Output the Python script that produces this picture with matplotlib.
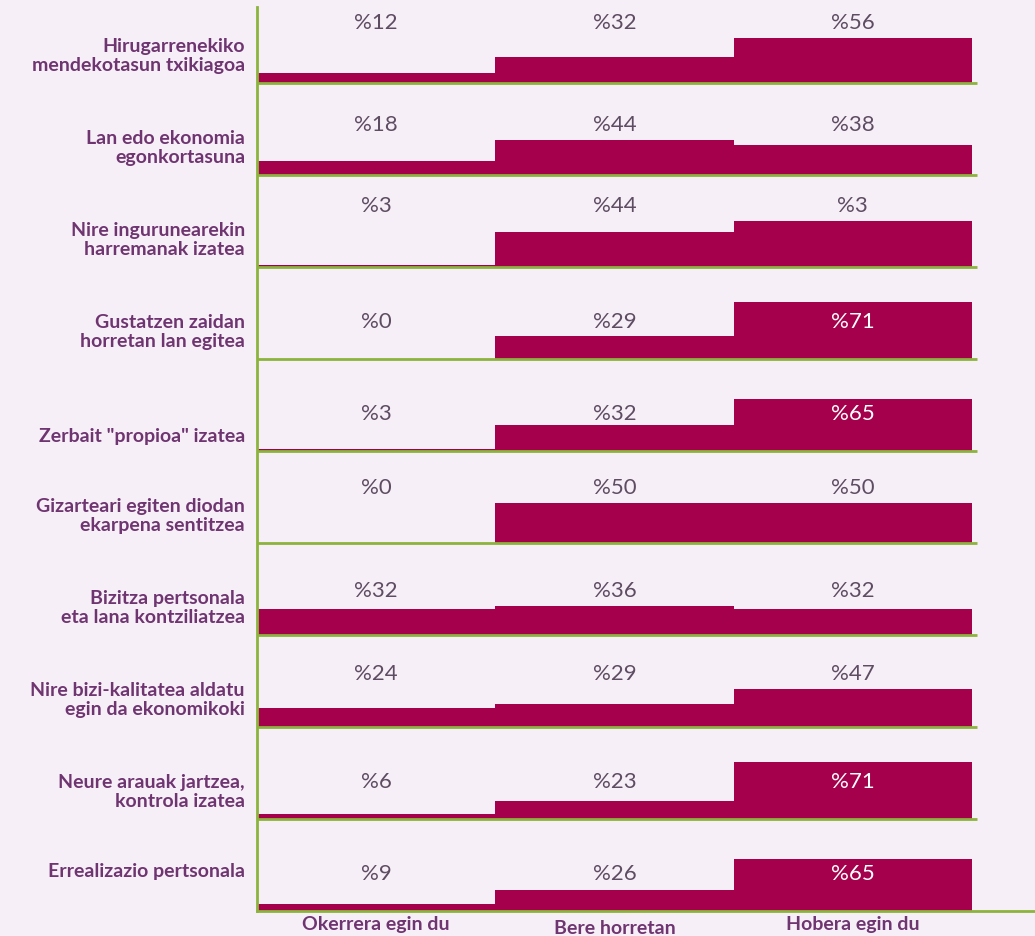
import matplotlib
matplotlib.use("Agg")
from matplotlib import pyplot as plt

# Datuak (irudian irakurrita)
categories = [
    "Hirugarrenekiko\nmendekotasun txikiagoa",
    "Lan edo ekonomia\negonkortasuna",
    "Nire ingurunearekin\nharremanak izatea",
    "Gustatzen zaidan\nhorretan lan egitea",
    "Zerbait \"propioa\" izatea",
    "Gizarteari egiten diodan\nekarpena sentitzea",
    "Bizitza pertsonala\neta lana kontziliatzea",
    "Nire bizi-kalitatea aldatu\negin da ekonomikoki",
    "Neure arauak jartzea,\nkontrola izatea",
    "Errealizazio pertsonala",
]
columns = ["Okerrera egin du", "Bere horretan", "Hobera egin du"]

okerrera = [12, 18, 3, 0, 3, 0, 32, 24, 6, 9]
bere = [32, 44, 44, 29, 32, 50, 36, 29, 23, 26]
hobera = [56, 38, 3, 71, 65, 50, 32, 47, 71, 65]
# barren altuera irudian (3. errenkadako azken barra etiketa baino altuagoa da)
hobera_bar = [56, 38, 57, 71, 65, 50, 32, 47, 71, 65]

bg = "#f7eff7"
bar_c = "#a5004b"
green = "#8cb43c"
purple = "#6f3571"
grey = "#5e4d62"

plt.rcParams['font.family'] = ['Lato', 'DejaVu Sans']

fig = plt.figure(figsize=(10.35, 9.37), dpi=100, facecolor=bg)
ax = fig.add_axes([257 / 1035, 25 / 937, 778 / 1035, 904 / 937])
ax.set_facecolor(bg)

col_w = 238.3           # pixel bat zutabe bakoitzeko
row_h = 115             # errenkada baten altuera (unitatetan, 0.8px = 1)
n = len(categories)
ax.set_xlim(0, 778 / col_w)
ax.set_ylim(0, 1130)

# etiketen posizio bereziak (errenkada bakarreko testuak)
label_dy = {4: 19, 9: 51}

for i in range(n):
    base = (n - 1 - i) * row_h
    heights = [okerrera[i], bere[i], hobera_bar[i]]
    texts = [okerrera[i], bere[i], hobera[i]]
    ax.bar([0.5, 1.5, 2.5], heights, width=1.0, bottom=base, color=bar_c,
           linewidth=0, zorder=2)
    top = max(heights)
    ly = top + 20 if top + 20 <= 82 else 48
    for j in range(3):
        c = "white" if heights[j] > ly else grey
        ax.text(j + 0.5, base + ly, "%" + str(texts[j]), ha='center',
                va='center', fontsize=16, fontweight='normal', color=c, zorder=3)
    if i < n - 1:
        ax.hlines(base, 0, 720 / col_w, color=green, linewidth=2, zorder=4)
    ax.text(-12 / col_w, base + label_dy.get(i, 35), categories[i],
            ha='right', va='center', fontsize=14, fontweight='bold',
            color=purple, linespacing=1.15, clip_on=False)

for j, name in enumerate(columns):
    dy = -21 if j == 1 else -16
    ax.text(j + 0.5, dy, name, ha='center', va='center', fontsize=14,
            fontweight='bold', color=purple, clip_on=False)

for s in ['top', 'right']:
    ax.spines[s].set_visible(False)
for s in ['left', 'bottom']:
    ax.spines[s].set_color(green)
    ax.spines[s].set_linewidth(2)
    ax.spines[s].set_zorder(5)
ax.set_xticks([])
ax.set_yticks([])

fig.savefig("out.png", dpi=100, facecolor=bg)
